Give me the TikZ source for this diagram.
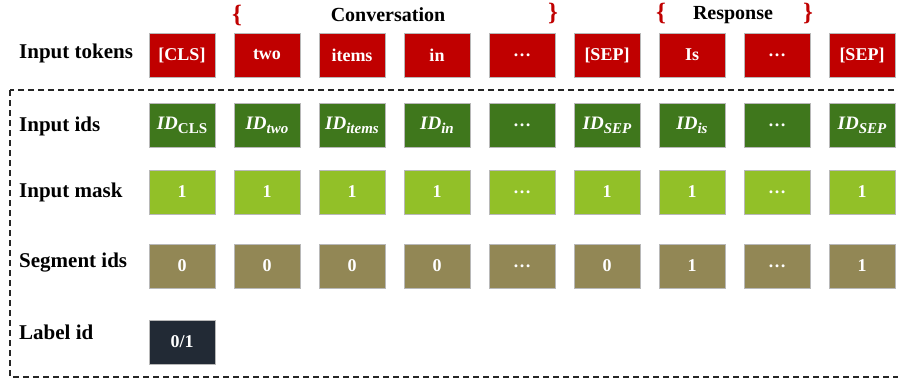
\documentclass[tikz,border=0pt]{standalone}
\usepackage{fontspec}
\setmainfont{Liberation Serif}
\definecolor{tokred}{HTML}{C00000}
\definecolor{idgreen}{HTML}{3F771C}
\definecolor{maskgreen}{HTML}{92C028}
\definecolor{segolive}{HTML}{928755}
\definecolor{labslate}{HTML}{222A35}
% ID with a small lowered subscript
\newcommand\idsub[1]{{\fontsize{19}{20}\selectfont\textit{ID}}\raisebox{-4pt}{\fontsize{15}{16}\selectfont\itshape #1}}
\begin{document}
\begin{tikzpicture}[x=1pt,y=-1pt,
  cell/.style={minimum width=66, minimum height=44, inner sep=0pt,
    draw=black!28, line width=0.7pt, text=white,
    font=\fontsize{18}{20}\selectfont\bfseries},
  tokcell/.style={cell, fill=tokred},
  idcell/.style={cell, fill=idgreen},
  maskcell/.style={cell, fill=maskgreen},
  segcell/.style={cell, fill=segolive},
  labcell/.style={cell, fill=labslate},
  rowlab/.style={anchor=west, inner sep=0pt, font=\fontsize{21}{24}\selectfont\bfseries},
  grouplab/.style={inner sep=0pt, font=\fontsize{20}{24}\selectfont\bfseries},
  brace/.style={inner sep=0pt, text=tokred, font=\fontsize{25}{27}\selectfont\bfseries},
  frame/.style={draw=black!85, line width=1.4pt, dash pattern=on 6pt off 4pt}]
\clip (0,0) rectangle (898,381);
\fill[white] (0,0) rectangle (898,381);

% row captions
\node[rowlab] (rtok) at (19,53) {Input tokens};
\node[rowlab] (rid)  at (19,126) {Input ids};
\node[rowlab] (rmask) at (19,192) {Input mask};
\node[rowlab] (rseg) at (19,263) {Segment ids};
\node[rowlab] (rlab) at (19,332) {Label id};

% token row
\foreach \t [count=\i from 0] in {{[CLS]},two,items,in,\dots,{[SEP]},Is,\dots,{[SEP]}}
  \node[tokcell] (tok\i) at (182+85*\i,55) {\t};

% input ids row
\foreach \t [count=\i from 0] in {{\idsub{\upshape CLS}},{\idsub{two}},{\idsub{items}},{\idsub{in}},\dots,{\idsub{SEP}},{\idsub{is}},\dots,{\idsub{SEP}}}
  \node[idcell] (id\i) at (182+85*\i,125) {\t};

% input mask row
\foreach \t [count=\i from 0] in {1,1,1,1,\dots,1,1,\dots,1}
  \node[maskcell] (mask\i) at (182+85*\i,192) {\t};

% segment ids row
\foreach \t [count=\i from 0] in {0,0,0,0,\dots,0,1,\dots,1}
  \node[segcell] (seg\i) at (182+85*\i,266) {\t};

% label
\node[labcell] (lab0) at (182,342) {0/1};

% group captions with braces
\node[brace] (cbl) at (237,15) {\{};
\node[grouplab] (conv) at (388,15) {Conversation};
\node[brace] (cbr) at (553,13) {\}};
\node[brace] (rbl) at (661,13) {\{};
\node[grouplab] (resp) at (733,15) {Response};
\node[brace] (rbr) at (808,13) {\}};

% dashed frame round the encoded rows
\draw[frame] (10,90) rectangle (920,377);
\end{tikzpicture}
\end{document}
